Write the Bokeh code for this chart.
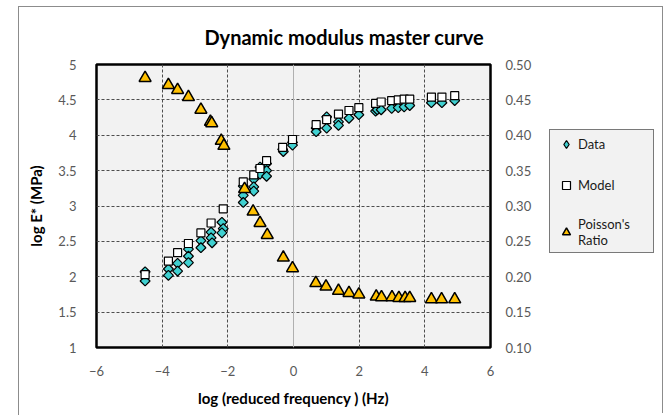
import numpy as np
from bokeh.plotting import figure
from bokeh.layouts import row
from bokeh.models import (Range1d, LinearAxis, FixedTicker, NumeralTickFormatter,
                          Legend, LegendItem, Span)
from bokeh.embed import file_html
from bokeh.resources import INLINE

# ---------------- data ----------------
data_x = [-4.52, -4.52, -3.81, -3.81, -3.53, -3.53, -3.20, -3.20, -3.20,
          -2.82, -2.82, -2.51, -2.51, -2.48, -2.18, -2.14, -2.18,
          -1.53, -1.53, -1.53, -1.21, -1.21, -1.21, -1.02, -1.02,
          -0.82, -0.82, -0.82, -0.33, -0.31, -0.03, -0.03,
          0.69, 0.69, 1.01, 1.01, 1.37, 1.37, 1.69, 1.99,
          2.50, 2.55, 2.67, 2.99, 3.19, 3.37, 3.54, 4.20, 4.52, 4.91]
data_y = [2.07, 1.94, 2.11, 2.02, 2.19, 2.08, 2.39, 2.29, 2.20,
          2.51, 2.41, 2.63, 2.55, 2.48, 2.77, 2.68, 2.62,
          3.28, 3.15, 3.05, 3.38, 3.27, 3.21, 3.55, 3.45,
          3.60, 3.50, 3.42, 3.80, 3.77, 3.90, 3.86,
          4.10, 4.05, 4.26, 4.10, 4.19, 4.14, 4.24, 4.29,
          4.34, 4.36, 4.36, 4.38, 4.39, 4.40, 4.42, 4.46, 4.46, 4.49]

model_x = [-4.52, -3.81, -3.53, -3.20, -2.82, -2.51, -2.14, -1.53, -1.21, -1.02,
           -0.82, -0.33, -0.03, 0.69, 1.01, 1.37, 1.69, 1.99, 2.50, 2.67,
           2.99, 3.19, 3.37, 3.54, 4.20, 4.52, 4.91]
model_y = [2.03, 2.22, 2.34, 2.47, 2.62, 2.76, 2.96, 3.34, 3.44, 3.53,
           3.64, 3.83, 3.94, 4.15, 4.22, 4.30, 4.35, 4.39, 4.45, 4.47,
           4.49, 4.50, 4.51, 4.51, 4.54, 4.54, 4.56]

pr_x = [-4.52, -3.81, -3.53, -3.20, -2.82, -2.53, -2.49, -2.20, -2.12, -1.49,
        -1.23, -1.02, -0.80, -0.31, -0.03, 0.68, 0.99, 1.37, 1.69, 1.99,
        2.52, 2.68, 3.00, 3.21, 3.40, 3.54, 4.20, 4.51, 4.91]
pr_y = [0.481, 0.471, 0.464, 0.454, 0.436, 0.419, 0.417, 0.392, 0.385, 0.324,
        0.292, 0.276, 0.259, 0.227, 0.212, 0.191, 0.186, 0.180, 0.177, 0.175,
        0.172, 0.171, 0.171, 0.170, 0.170, 0.170, 0.168, 0.168, 0.168]

x_ticks = [-6, -4, -2, 0, 2, 4, 6]
y_ticks = [1, 1.5, 2, 2.5, 3, 3.5, 4, 4.5, 5]
pr_ticks = [0.10, 0.15, 0.20, 0.25, 0.30, 0.35, 0.40, 0.45, 0.50]
legend_labels = ["Data", "Model", "Poisson's\nRatio"]

FONT = "Lato"
TICK_COLOR = "#595959"
BORDER = "1px solid #8c8c8c"
CYAN = "#40d0d0"

DATA_STYLE = dict(marker="square", angle=np.pi / 4, size=7,
                  fill_color=CYAN, line_color="black", line_width=1.2)
MODEL_STYLE = dict(marker="square", size=8,
                   fill_color="white", line_color="black", line_width=1.2)
PR_STYLE = dict(marker="triangle", size=12,
                fill_color="#ffc000", line_color="black", line_width=1.5)

p = figure(output_backend="svg", toolbar_location=None,
           x_range=Range1d(-6, 6), y_range=Range1d(1, 5),
           frame_width=393, frame_height=282,
           min_border_left=77, min_border_right=55, min_border_top=55, min_border_bottom=70,
           title="Dynamic modulus master curve")
p.margin = (6, 0, 0, 18)
p.styles = {"border-left": BORDER, "border-top": BORDER}
p.extra_y_ranges = {"pr": Range1d(0.10, 0.50)}

p.background_fill_color = "#f2f2f2"
p.border_fill_color = "white"
p.outline_line_color = "black"
p.outline_line_width = 2.5

p.title.text_font = FONT
p.title.text_font_size = "20px"
p.title.text_font_style = "bold"
p.title.text_color = "black"
p.title.align = "left"
p.title.offset = 108
p.title.standoff = 31

# axes
xa = p.xaxis[0]
xa.ticker = FixedTicker(ticks=x_ticks)
xa.axis_label = "log (reduced frequency ) (Hz)"
ya = p.yaxis[0]
ya.ticker = FixedTicker(ticks=y_ticks)
ya.formatter = NumeralTickFormatter(format="0.[0]")
ya.axis_label = "log E* (MPa)"

ra = LinearAxis(y_range_name="pr", ticker=FixedTicker(ticks=pr_ticks),
                formatter=NumeralTickFormatter(format="0.00"))
p.add_layout(ra, "right")

for ax in [xa, ya, ra]:
    ax.axis_line_color = None
    ax.major_tick_line_color = None
    ax.minor_tick_line_color = None
    ax.major_label_text_font = FONT
    ax.major_label_text_font_size = "13px"
    ax.major_label_text_color = TICK_COLOR
    ax.axis_label_text_font = FONT
    ax.axis_label_text_font_size = "15px"
    ax.axis_label_text_font_style = "bold"
    ax.axis_label_text_color = "black"
xa.major_label_standoff = 12
xa.axis_label_standoff = 10
ya.major_label_standoff = 14
ya.axis_label_standoff = 10
ra.major_label_standoff = 9

# grid
p.xgrid.ticker = FixedTicker(ticks=[-4, -2, 2, 4])
p.ygrid.ticker = FixedTicker(ticks=[1.5, 2, 2.5, 3, 3.5, 4, 4.5])
for g in [p.xgrid[0], p.ygrid[0]]:
    g.grid_line_color = "#4d4d4d"
    g.grid_line_dash = "3 2"
    g.grid_line_width = 1
p.add_layout(Span(location=0, dimension="height", line_color="#b0b0b0",
                  line_width=1, level="underlay"))

# series
p.scatter(data_x, data_y, **DATA_STYLE)
p.scatter(model_x, model_y, **MODEL_STYLE)
p.scatter(pr_x, pr_y, y_range_name="pr", **PR_STYLE)

# ---------------- legend panel (separate canvas so it is not clipped) ----------------
# its ranges are far from the data, so the proxy renderers only feed the legend icons
q = figure(output_backend="svg", toolbar_location=None, width=119, height=407,
           min_border=0, x_range=Range1d(100, 101), y_range=Range1d(100, 101),
           x_axis_location=None, y_axis_location=None)
q.margin = (6, 0, 0, 0)
q.styles = {"border-top": BORDER, "border-right": BORDER}
q.outline_line_color = None
q.background_fill_color = "white"
q.border_fill_color = "white"
q.xgrid.visible = False
q.ygrid.visible = False
lr_data = q.scatter(data_x, data_y, marker="diamond", size=10,
                    fill_color=CYAN, line_color="black", line_width=1.2)
lr_model = q.scatter(model_x, model_y, **MODEL_STYLE)
lr_pr = q.scatter(pr_x, pr_y, **PR_STYLE)

legend = Legend(items=[LegendItem(label=legend_labels[0], renderers=[lr_data]),
                       LegendItem(label=legend_labels[1], renderers=[lr_model]),
                       LegendItem(label=legend_labels[2], renderers=[lr_pr])],
                location=(5, 91), orientation="vertical")
legend.border_line_color = "black"
legend.border_line_width = 1
legend.background_fill_color = "#f2f2f2"
legend.background_fill_alpha = 1
legend.label_text_font = FONT
legend.label_text_font_size = "13px"
legend.label_text_color = "#1a1a1a"
legend.padding = 4
legend.margin = 0
legend.spacing = 21
legend.glyph_width = 24
legend.glyph_height = 20
legend.label_height = 20
legend.label_standoff = 0
legend.label_width = 71
q.add_layout(legend, "center")

layout = row(p, q)
open("out.html", "w").write(file_html(layout, INLINE))
